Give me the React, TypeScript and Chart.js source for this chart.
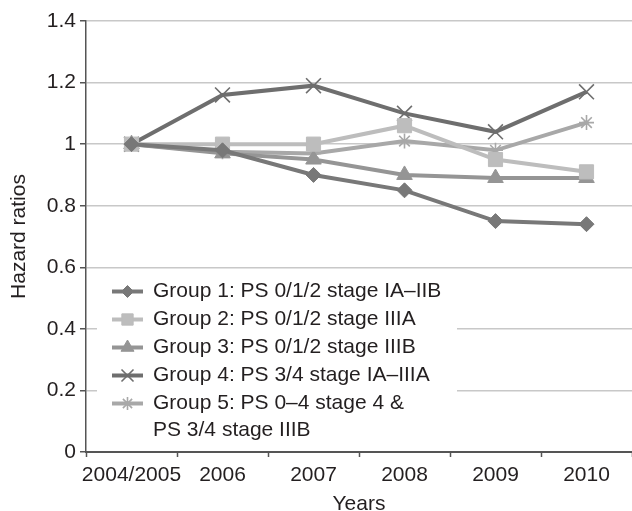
import React, { useEffect, useRef } from 'react';
import { Chart, registerables } from 'chart.js';
import { drawPoint } from 'chart.js/helpers';

Chart.register(...registerables);

const categories = ['2004/2005', '2006', '2007', '2008', '2009', '2010'];
const group1 = [1, 0.98, 0.9, 0.85, 0.75, 0.74];
const group2 = [1, 1, 1, 1.06, 0.95, 0.91];
const group3 = [1, 0.97, 0.95, 0.9, 0.89, 0.89];
const group4 = [1, 1.16, 1.19, 1.1, 1.04, 1.17];
const group5 = [1, 0.975, 0.97, 1.01, 0.98, 1.07];
const seriesLabels = [
  ['Group 1: PS 0/1/2 stage IA\u2013IIB'],
  ['Group 2: PS 0/1/2 stage IIIA'],
  ['Group 3: PS 0/1/2 stage IIIB'],
  ['Group 4: PS 3/4 stage IA\u2013IIIA'],
  ['Group 5: PS 0\u20134 stage 4 &', 'PS 3/4 stage IIIB'],
];
const yTitle = 'Hazard ratios';
const xTitle = 'Years';

const FONT = '"Liberation Sans", Arial, Helvetica, sans-serif';
const TEXT = '#231f20';

const styles = [
  { color: '#787878', pointStyle: 'rectRot', radius: 7.5, legendRadius: 6, bw: 1 },
  { color: '#bdbdbd', pointStyle: 'rect', radius: 10, legendRadius: 8, bw: 1 },
  { color: '#959595', pointStyle: 'triangle', radius: 9, legendRadius: 7.5, bw: 1 },
  { color: '#6e6e6e', pointStyle: 'crossRot', radius: 10.5, legendRadius: 8.5, bw: 1.6 },
  { color: '#a8a8a8', pointStyle: 'star', radius: 7.5, legendRadius: 6.5, bw: 1.6 },
];

const legendPlugin = {
  id: 'customLegend',
  afterDraw(chart: any) {
    const { ctx, chartArea } = chart;
    const left = chartArea.left + 11;
    const top = chartArea.top + 255;
    ctx.save();
    ctx.fillStyle = '#ffffff';
    ctx.fillRect(left, top, 360, 170);
    const rowY = [291.5, 319.5, 347.5, 375.5, 403.5].map((v) => v - 276 + top);
    chart.data.datasets.forEach((ds: any, i: number) => {
      const st = styles[i];
      const y = rowY[i];
      ctx.strokeStyle = st.color;
      ctx.lineWidth = 4;
      ctx.beginPath();
      ctx.moveTo(left + 15, y);
      ctx.lineTo(left + 46, y);
      ctx.stroke();
      ctx.fillStyle = st.color;
      ctx.strokeStyle = st.color;
      ctx.lineWidth = st.bw;
      drawPoint(ctx, { pointStyle: st.pointStyle as any, radius: st.legendRadius, borderWidth: st.bw, rotation: 0 }, left + 30.5, y);
      ctx.fillStyle = TEXT;
      ctx.font = `21px ${FONT}`;
      ctx.textBaseline = 'middle';
      ctx.textAlign = 'left';
      seriesLabels[i].forEach((t, j) => ctx.fillText(t, left + 56, y + j * 26.5));
    });
    ctx.restore();
  },
};

export default function App() {
  const ref = useRef<HTMLCanvasElement>(null);
  useEffect(() => {
    if (!ref.current) return;
    const data = [group1, group2, group3, group4, group5];
    const chart = new Chart(ref.current, {
      type: 'line',
      data: {
        labels: categories,
        datasets: data.map((d, i) => ({
          label: seriesLabels[i].join(' '),
          data: d,
          borderColor: styles[i].color,
          backgroundColor: styles[i].color,
          borderWidth: 4,
          pointStyle: styles[i].pointStyle as any,
          pointRadius: styles[i].radius,
          pointBackgroundColor: styles[i].color,
          pointBorderColor: styles[i].color,
          pointBorderWidth: styles[i].bw,
          tension: 0,
          fill: false,
        })),
      },
      options: {
        animation: false,
        responsive: true,
        maintainAspectRatio: false,
        layout: { autoPadding: false, padding: { left: 0, top: 21, right: 0, bottom: 0 } },
        plugins: { legend: { display: false }, tooltip: { enabled: false } },
        scales: {
          x: {
            type: 'category',
            offset: true,
            grid: { display: true, drawOnChartArea: false, drawTicks: true, offset: true, tickLength: 5, tickColor: '#555', tickWidth: 1.5 },
            border: { display: true, color: '#555', width: 2 },
            ticks: { color: TEXT, font: { family: FONT, size: 21 }, padding: 6, maxRotation: 0, minRotation: 0, autoSkip: false },
            title: { display: true, text: xTitle, color: TEXT, font: { family: FONT, size: 21 }, padding: { top: 0, bottom: -6 } },
            afterFit: (s: any) => { s.height = 59; s.paddingLeft = 0; s.paddingRight = 0; },
          },
          y: {
            min: 0,
            max: 1.4,
            ticks: {
              stepSize: 0.2,
              color: TEXT,
              font: { family: FONT, size: 21 },
              padding: 4,
              callback: (v: any) => String(+Number(v).toFixed(1)),
            },
            grid: { color: '#c8c8c8', lineWidth: 1.5, tickColor: '#555', tickLength: 6, tickWidth: 1.5 },
            border: { display: true, color: '#555', width: 1.5 },
            title: { display: true, text: yTitle, color: TEXT, font: { family: FONT, size: 21 }, padding: { top: 7, bottom: 0 } },
            afterFit: (s: any) => { s.width = 86; },
          },
        },
      },
      plugins: [legendPlugin],
    });
    return () => chart.destroy();
  }, []);
  return (
    <div style={{ position: 'absolute', left: 0, top: 0, width: 632, height: 511, background: '#fff' }}>
      <canvas ref={ref} />
    </div>
  );
}
